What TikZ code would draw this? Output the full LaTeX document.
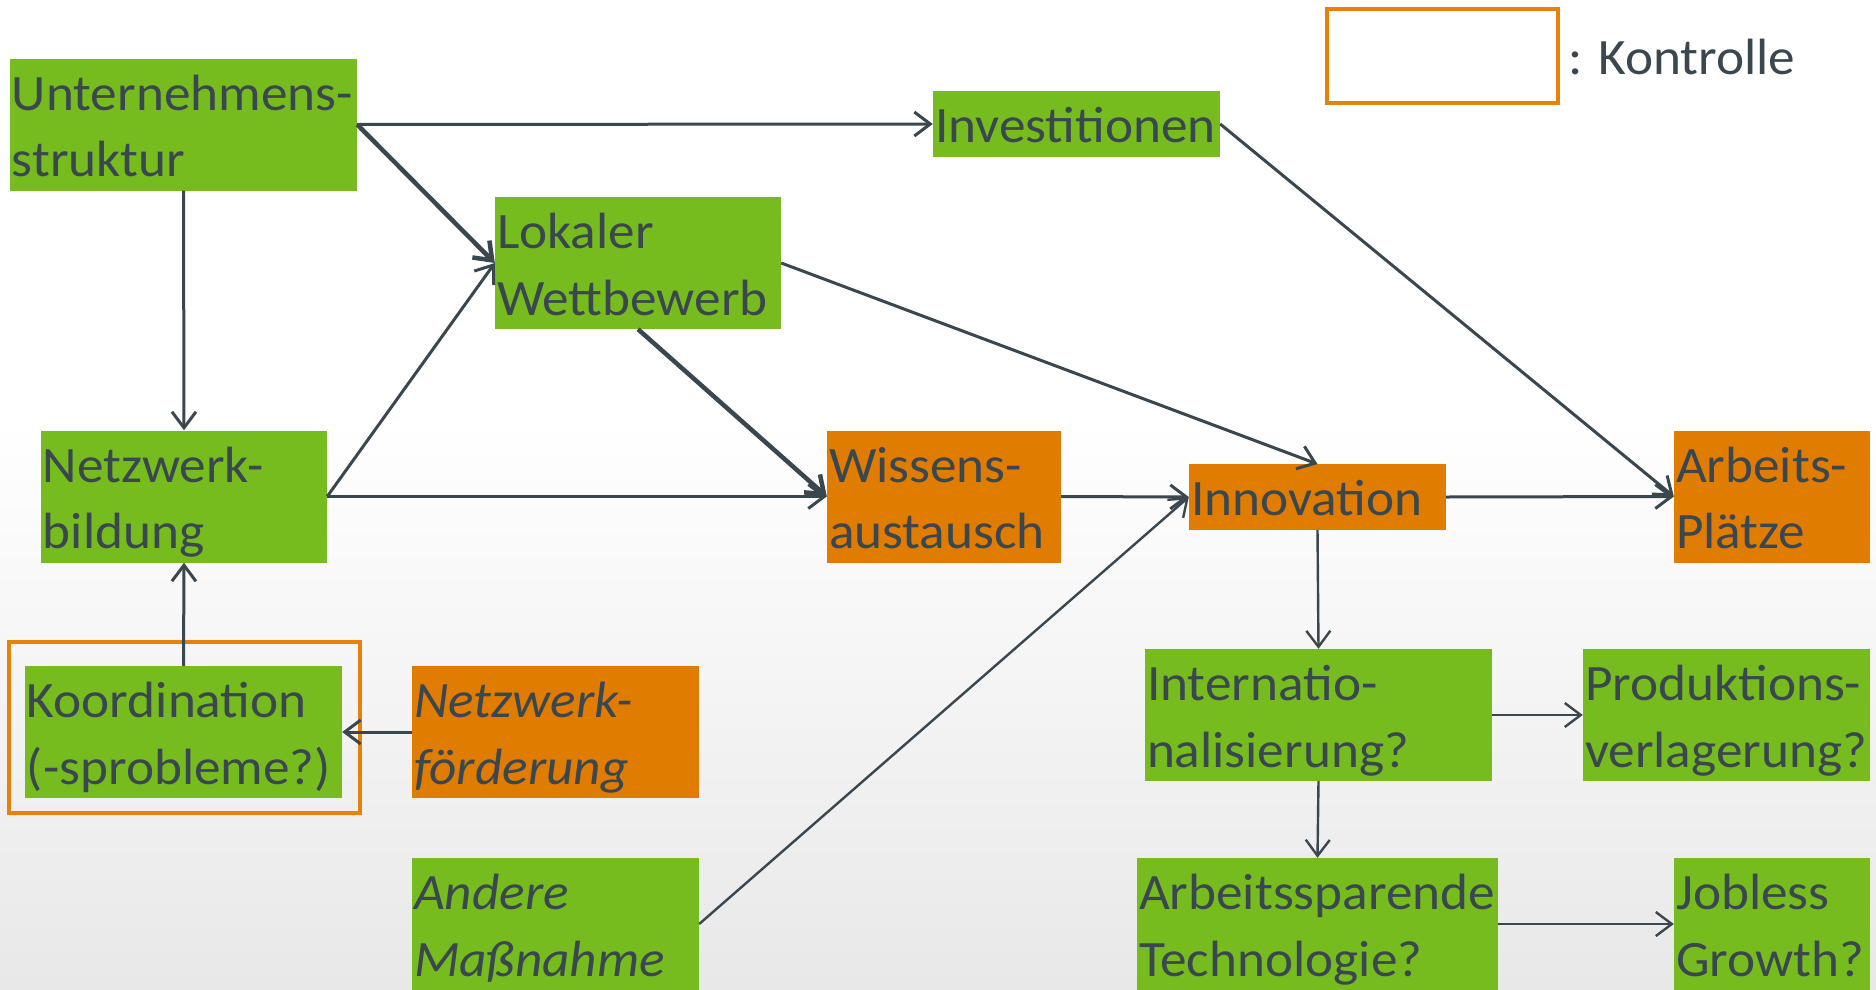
\documentclass[tikz,border=0pt]{standalone}
\usepackage{fontspec}
\setmainfont{Carlito}[FakeStretch=1.045]
\usetikzlibrary{arrows.meta}
\definecolor{txt}{RGB}{58,71,79}
\definecolor{leaf}{RGB}{119,188,31}
\definecolor{amber}{RGB}{224,124,0}
\definecolor{frameor}{RGB}{230,130,12}
\definecolor{bgbottom}{RGB}{232,232,232}
% strut with fixed height/depth so every box centres its lines alike
\newcommand\tstrut{\rule[-14bp]{0pt}{65.5bp}}
\tikzset{
  box/.style={rectangle, inner xsep=2bp, inner ysep=0pt, text=txt,
    font=\fontsize{51bp}{62.5bp}\selectfont, align=left, anchor=center},
  gbox/.style={box, fill=leaf},
  obox/.style={box, fill=amber},
  conn/.style={draw=txt, line width=3bp, -{Straight Barb[length=16bp,width=24bp]}},
  heavy/.style={conn, line width=4.5bp},
  light/.style={conn, line width=2.4bp},
  ctrlframe/.style={draw=frameor, line width=4bp, rectangle, inner sep=0pt}
}
\begin{document}
\begin{tikzpicture}[x=1bp, y=-1bp]
\useasboundingbox (0,0) rectangle (1876,989);
\fill[white] (0,0) rectangle (1876,989);
\shade[top color=white, bottom color=bgbottom] (0,420) rectangle (1876,989);

% legend
\node[ctrlframe, minimum width=231bp, minimum height=94bp] (legbox) at (1442.5,56) {};
\node[text=txt, font=\fontsize{51bp}{62.5bp}\selectfont, anchor=base west, inner sep=0pt] (legtext) at (1568,74) {: Kontrolle};

% control frame around Koordination
\node[ctrlframe, minimum width=351bp, minimum height=171bp] (ctrl) at (184.5,727.5) {};

% boxes
\node[gbox, minimum width=347bp, minimum height=129bp, text width=343bp] (unt) at (183.5,124.5) {\tstrut Unternehmens-\\struktur\tstrut};
\node[gbox, minimum width=286bp, minimum height=128bp, text width=282bp] (lok) at (638,263) {\tstrut Lokaler\\Wettbewerb\tstrut};
\node[gbox, minimum width=287bp, minimum height=64bp, text width=283bp] (inv) at (1076.5,124) {\tstrut Investitionen};
\node[gbox, minimum width=286bp, minimum height=129bp, text width=282bp] (netz) at (184,496.5) {\tstrut Netzwerk-\\bildung\tstrut};
\node[obox, minimum width=234bp, minimum height=129bp, text width=230bp] (wiss) at (944,496.5) {\tstrut Wissens-\\austausch\tstrut};
\node[obox, minimum width=257bp, minimum height=64bp, text width=253bp] (inno) at (1317.5,497) {\tstrut Innovation};
\node[obox, minimum width=196bp, minimum height=129bp, text width=192bp] (arb) at (1772,496.5) {\tstrut Arbeits-\\Plätze\tstrut};
\node[gbox, minimum width=317bp, minimum height=128bp, text width=313bp] (koord) at (183.5,732) {\tstrut Koordination\\(-sprobleme?)\tstrut};
\node[obox, minimum width=287bp, minimum height=128bp, text width=283bp] (nfoerd) at (555.5,732) {\tstrut\itshape Netzwerk-\\förderung\tstrut};
\node[gbox, minimum width=287bp, minimum height=130bp, text width=283bp] (andere) at (555.5,924) {\tstrut\itshape Andere\\Maßnahme\tstrut};
\node[gbox, minimum width=347bp, minimum height=128bp, text width=343bp] (intl) at (1318.5,715) {\tstrut Internatio-\\nalisierung?\tstrut};
\node[gbox, minimum width=287bp, minimum height=128bp, text width=283bp] (prod) at (1726.5,715) {\tstrut Produktions-\\verlagerung?\tstrut};
\node[gbox, minimum width=361bp, minimum height=130bp, text width=357bp] (spar) at (1317.5,924) {\tstrut Arbeitssparende\\Technologie?\tstrut};
\node[gbox, minimum width=196bp, minimum height=130bp, text width=192bp] (jobless) at (1772,924) {\tstrut Jobless\\Growth?\tstrut};

% connectors
\draw[conn] (unt.east) -- (inv.west);
\draw[heavy] (unt.east) -- (lok.west);
\draw[conn] (unt.south) -- (netz.north);
\draw[conn] (netz.east) -- (lok.west);
\draw[conn] (netz.east) -- (wiss.west);
\draw[heavy] (lok.south) -- (wiss.west);
\draw[conn] (lok.east) -- (inno.north);
\draw[conn] (inv.east) -- (arb.west);
\draw[conn] (wiss.east) -- (inno.west);
\draw[conn] (inno.east) -- (arb.west);
\draw[light] (andere.east) -- (inno.west);
\draw[light] (inno.south) -- (intl.north);
\draw[conn] (koord.north) -- (netz.south);
\draw[conn] (nfoerd.west) -- (koord.east);
\draw[light] (intl.east) -- (prod.west);
\draw[light] (intl.south) -- (spar.north);
\draw[light] (spar.east) -- (jobless.west);
\end{tikzpicture}
\end{document}
